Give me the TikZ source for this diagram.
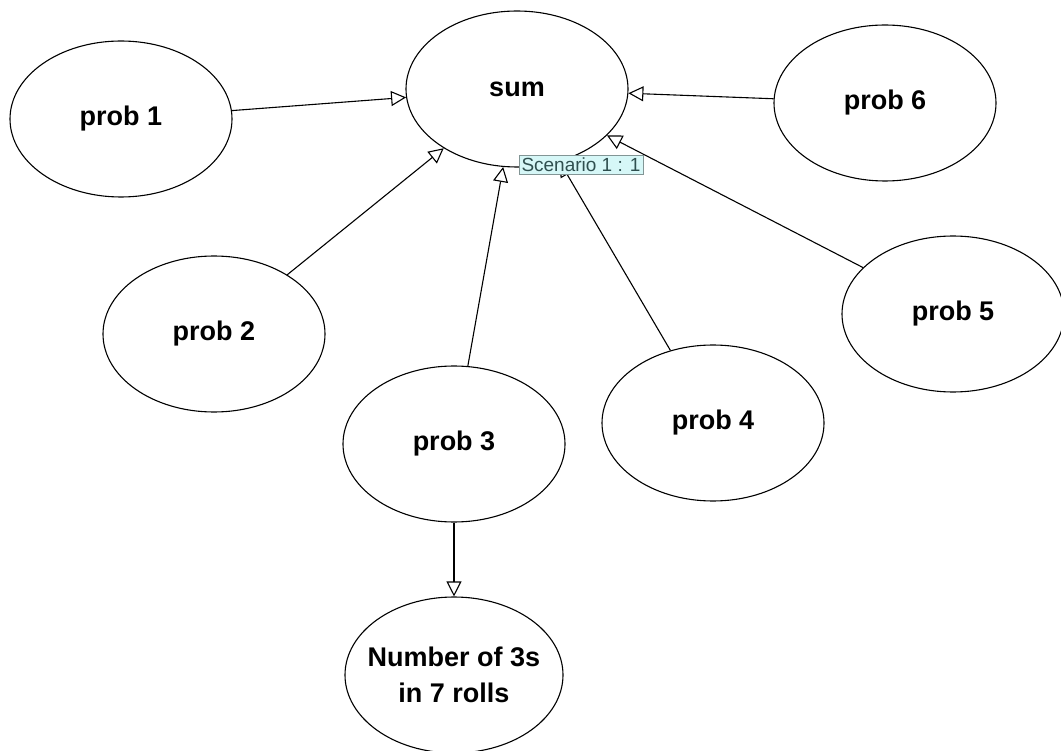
\documentclass[tikz,border=0pt]{standalone}
\usepackage{fontspec}
\setmainfont{Liberation Sans}
\usetikzlibrary{shapes.geometric,arrows.meta}
\definecolor{tipfill}{HTML}{D6F7F7}
\definecolor{tiptext}{HTML}{2F4F4F}
\begin{document}
\begin{tikzpicture}[x=1pt,y=-1pt,pv/.style={draw,ellipse,minimum width=222pt,minimum
					height=156pt,inner sep=0pt,line width=1.1pt,font=\fontsize{27}{36}\selectfont\bfseries},
				ln/.style={-{Triangle[open,length=15pt,width=15pt]},line width=1.1pt},
				tp/.style={draw=tiptext!60,fill=tipfill,rectangle,inner sep=2.5pt,text=tiptext,
					font=\fontsize{19}{19}\selectfont}]
		\useasboundingbox (0,0) rectangle (1061,751);
		\node[pv] (sum) at (517,89) {sum};
		\node[pv] (p1) at (121,119) {prob 1};
		\node[pv] (p2) at (214,334) {prob 2};
		\node[pv] (p3) at (454,444) {prob 3};
		\node[pv] (p4) at (713,423) {prob 4};
		\node[pv] (p5) at (953,314) {prob 5};
		\node[pv] (p6) at (885,103) {prob 6};
		\node[pv,minimum width=218pt,inner xsep=-50pt,align=center] (n3) at (454,675) {Number of 3s\\in 7 rolls};
		\foreach \p in {p1,p2,p3,p4,p5,p6}
		\draw[ln] (\p) -- (sum);
		\draw[ln] (p3) -- (n3);
		\node[tp] (sc) at (581,165) {Scenario 1 : 1};
	\end{tikzpicture}
\end{document}
